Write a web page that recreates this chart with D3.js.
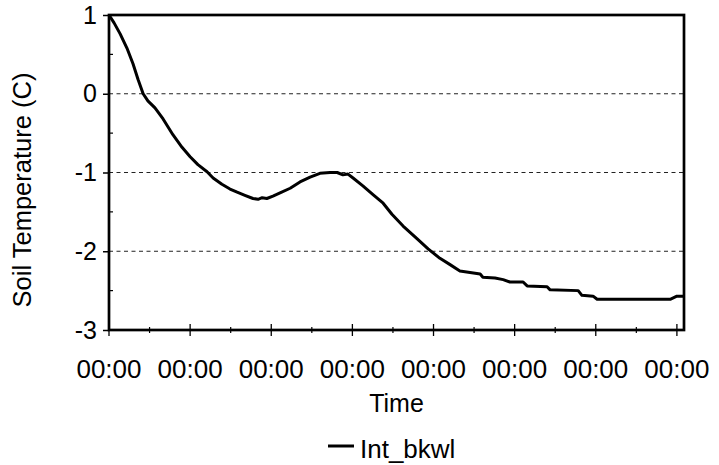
<!DOCTYPE html>
<html>
<head>
<meta charset="utf-8">
<script src="https://cdn.jsdelivr.net/npm/d3@7"></script>
<style>
  body { margin: 0; background: white; }
  text { font-family: "Liberation Sans", Arial, sans-serif; fill: black; }
</style>
</head>
<body>
<div id="container"></div>
<script>

  // data (time in hours from start)
  const hours = [0, 1.5, 3.3, 5.3, 7.1, 8.6, 10.1, 11.5, 13.6, 16.0, 18.9, 21.6, 24.0, 26.3, 29.0,
    30.8, 33.4, 35.8, 37.9, 40.2, 42.6, 44.1, 45.3, 46.7, 48.5, 50.6, 53.6, 56.5, 59.5, 62.4,
    65.4, 67.5, 69.2, 70.7, 72.2, 75.1, 78.1, 81.1, 83.7, 87.0, 91.1, 94.4, 97.9, 100.9, 103.8,
    106.8, 109.8, 110.6, 114.2, 116.6, 118.6, 122.5, 123.7, 129.6, 130.5, 138.8, 139.9, 143.2,
    144.4, 166.0, 168.0, 170.1];
  const temps = [1.00, 0.90, 0.76, 0.58, 0.38, 0.18, 0.00, -0.09, -0.18, -0.32, -0.52, -0.68, -0.80, -0.90, -0.99,
    -1.07, -1.15, -1.21, -1.25, -1.29, -1.33, -1.34, -1.32, -1.33, -1.30, -1.26, -1.20, -1.12, -1.06, -1.01,
    -1.00, -1.00, -1.03, -1.02, -1.07, -1.17, -1.28, -1.39, -1.53, -1.68, -1.84, -1.97, -2.09, -2.17, -2.25,
    -2.27, -2.29, -2.33, -2.34, -2.36, -2.39, -2.39, -2.44, -2.45, -2.49, -2.50, -2.56, -2.57,
    -2.61, -2.61, -2.57, -2.57];
  const seriesName = "Int_bkwl";

  const xTicks = [0, 24, 48, 72, 96, 120, 144, 168];
  const xTickLabels = ["00:00", "00:00", "00:00", "00:00", "00:00", "00:00", "00:00", "00:00"];
  const xMinorTicks = [12, 36, 60, 84, 108, 132, 156];
  const yTicks = [1, 0, -1, -2, -3];
  const yGrid = [0, -1, -2];
  const yMinorTicks = [0.5, -0.5, -1.5, -2.5];

  const width = 719;
  const height = 465;
  const plot = { left: 109, right: 684, top: 15, bottom: 330 };

  const svg = d3.create("svg")
      .attr("width", width)
      .attr("height", height);

  const x = d3.scaleLinear().domain([0, 170.1]).range([plot.left, plot.right]);
  const y = d3.scaleLinear().domain([-3, 1]).range([plot.bottom, plot.top]);

  // dashed gridlines
  svg.append("g")
      .selectAll("line")
      .data(yGrid)
      .join("line")
      .attr("x1", plot.left)
      .attr("x2", plot.right)
      .attr("y1", d => y(d))
      .attr("y2", d => y(d))
      .attr("stroke", "#222")
      .attr("stroke-width", 1)
      .attr("stroke-dasharray", "4,3.5");

  // y axis: outward major ticks, labels
  const yAxis = svg.append("g")
      .attr("transform", `translate(${plot.left},0)`)
      .call(d3.axisLeft(y).tickValues(yTicks).tickSize(6).tickPadding(6).tickFormat(d3.format("d")));
  yAxis.select(".domain").remove();
  yAxis.selectAll(".tick line").attr("stroke-width", 1.5);
  yAxis.selectAll(".tick text")
      .attr("font-size", "25px")
      .attr("font-family", "Liberation Sans, Arial, sans-serif")
      .text(d => d < 0 ? "-" + Math.abs(d) : d);

  // y minor ticks (inside)
  svg.append("g")
      .selectAll("line")
      .data(yMinorTicks)
      .join("line")
      .attr("x1", plot.left)
      .attr("x2", plot.left + 4)
      .attr("y1", d => y(d))
      .attr("y2", d => y(d))
      .attr("stroke", "black")
      .attr("stroke-width", 1.2);

  // x axis ticks crossing the bottom line
  svg.append("g")
      .selectAll("line")
      .data(xTicks)
      .join("line")
      .attr("x1", d => x(d))
      .attr("x2", d => x(d))
      .attr("y1", plot.bottom - 6)
      .attr("y2", plot.bottom + 6)
      .attr("stroke", "black")
      .attr("stroke-width", 1.3);

  svg.append("g")
      .selectAll("line")
      .data(xMinorTicks)
      .join("line")
      .attr("x1", d => x(d))
      .attr("x2", d => x(d))
      .attr("y1", plot.bottom - 3)
      .attr("y2", plot.bottom + 3)
      .attr("stroke", "black")
      .attr("stroke-width", 1.2);

  svg.append("g")
      .selectAll("text")
      .data(xTicks)
      .join("text")
      .attr("x", d => x(d))
      .attr("y", 378)
      .attr("text-anchor", "middle")
      .attr("font-size", "26px")
      .text((d, i) => xTickLabels[i]);

  // plot frame
  svg.append("rect")
      .attr("x", plot.left)
      .attr("y", plot.top)
      .attr("width", plot.right - plot.left)
      .attr("height", plot.bottom - plot.top)
      .attr("fill", "none")
      .attr("stroke", "black")
      .attr("stroke-width", 2.7);

  // the series
  const line = d3.line()
      .x((d, i) => x(hours[i]))
      .y(d => y(d));

  svg.append("path")
      .attr("d", line(temps))
      .attr("fill", "none")
      .attr("stroke", "black")
      .attr("stroke-width", 3)
      .attr("stroke-linejoin", "round");

  // axis titles
  svg.append("text")
      .attr("x", (plot.left + plot.right) / 2)
      .attr("y", 412)
      .attr("text-anchor", "middle")
      .attr("font-size", "25px")
      .text("Time");

  svg.append("text")
      .attr("transform", "translate(31,190) rotate(-90)")
      .attr("text-anchor", "middle")
      .attr("font-size", "25.5px")
      .text("Soil Temperature (C)");

  // legend
  svg.append("line")
      .attr("x1", 328)
      .attr("x2", 354)
      .attr("y1", 446)
      .attr("y2", 446)
      .attr("stroke", "black")
      .attr("stroke-width", 3);

  svg.append("text")
      .attr("x", 360)
      .attr("y", 458)
      .attr("font-size", "26px")
      .text(seriesName);

  container.append(svg.node());

</script>
</body>
</html>
